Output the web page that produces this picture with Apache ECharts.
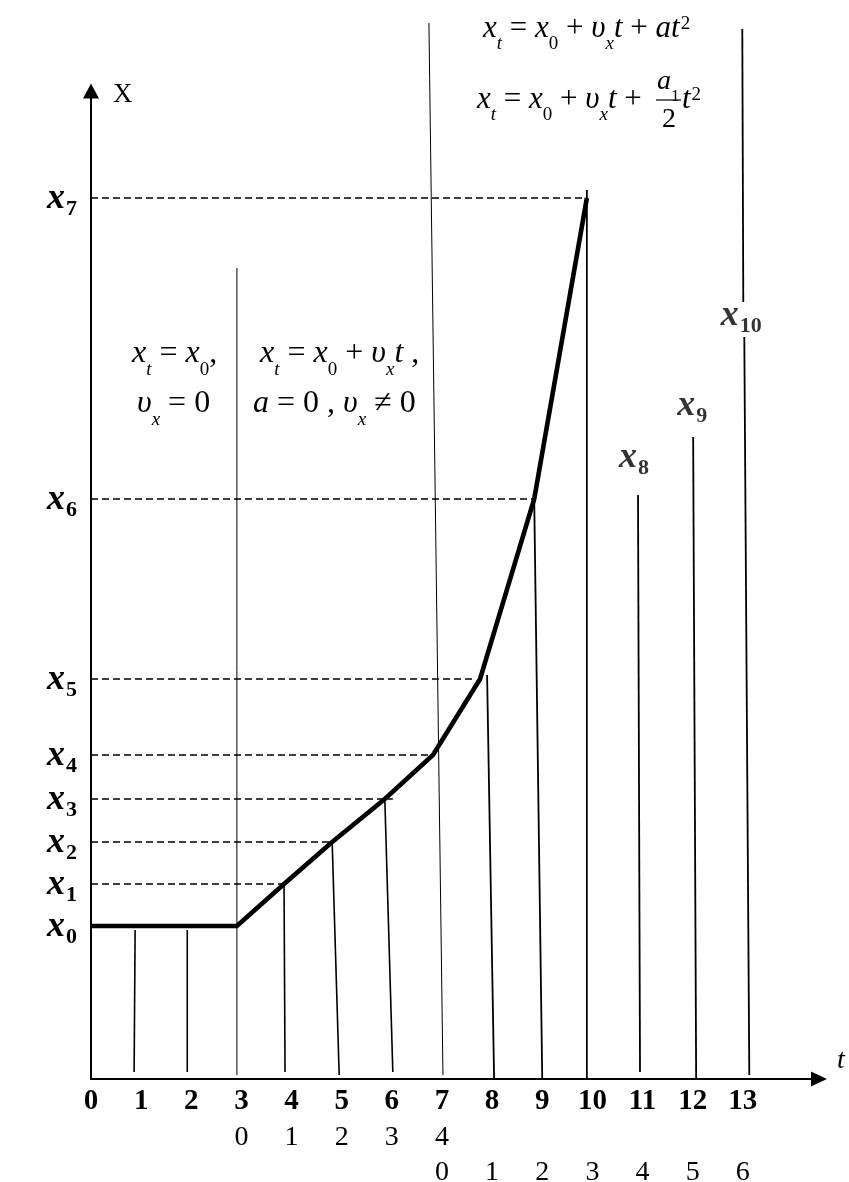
<!DOCTYPE html>
<html>
<head>
<meta charset="utf-8">
<script src="https://cdn.jsdelivr.net/npm/echarts@6/dist/echarts.min.js"></script>
<style>
  html, body { margin: 0; padding: 0; background: #fff; }
  #chart { width: 849px; height: 1182px; }
</style>
</head>
<body>
<div id="chart"></div>
<script>
const SERIF = "'Liberation Serif', 'Times New Roman', serif";

// t axis: main ticks and the two rows of local time under them
const tTicks = [0, 1, 2, 3, 4, 5, 6, 7, 8, 9, 10, 11, 12, 13];
const tRow2 = ['', '', '', '0', '1', '2', '3', '4', '', '', '', '', '', ''];
const tRow3 = ['', '', '', '', '', '', '', '0', '1', '2', '3', '4', '5', '6'];
// t axis runs a little to the left of the X axis
const tAxisStart = -1.616;

// X levels x0..x7 (arbitrary units) and where their dashed lines stop
const levelNames = ['0', '1', '2', '3', '4', '5', '6', '7'];
const levels = [15.3, 19.5, 23.7, 28.0, 32.4, 40.0, 58.0, 88.1];
const dashEnds = [0, 3.85, 4.77, 6.02, 6.82, 7.64, 8.84, 9.89];

// the motion graph
const pathT = [0, 2.91, 3.85, 4.81, 5.86, 6.82, 7.76, 8.84, 9.89];
const pathX = [15.3, 15.3, 19.5, 23.7, 28.0, 32.4, 40.0, 58.0, 88.1];

// thin vertical drop lines (top point -> bottom point)
const dropTopT = [0.88, 1.92, 2.91, 3.85, 4.81, 5.86, 6.74, 7.90, 8.84, 9.89, 10.91, 12.01, 12.99, 13.03];
const dropTopX = [14.9, 14.9, 81.1, 19.5, 23.7, 28.0, 105.6, 40.4, 57.9, 88.9, 58.4, 64.2, 105.0, 74.2];
const dropBotT = [0.86, 1.92, 2.91, 3.87, 4.95, 6.02, 7.02, 8.04, 9.00, 9.89, 10.95, 12.07, 13.01, 13.13];
const dropBotX = [0.7, 0.7, 0.4, 0.7, 0.4, 0.7, 0.4, 0, 0, 0, 0.7, 0.1, 77.7, 0.4];
const dropWidth = [1.6, 1.6, 1, 1.6, 1.6, 1.6, 1, 1.8, 1.8, 1.8, 1.8, 1.8, 1.8, 1.8];

// free labels x8..x10
const freeNames = ['8', '9', '10'];
const freeT = [10.83, 11.99, 12.97];
const freeX = [61.8, 67.0, 76.0];

const xLabelRich = {
  x: { fontFamily: SERIF, fontStyle: 'italic', fontWeight: 'bold', fontSize: 36, lineHeight: 43, verticalAlign: 'top', color: '#000' },
  d: { fontFamily: SERIF, fontWeight: 'bold', fontSize: 22, lineHeight: 22, verticalAlign: 'top', padding: [18, 0, 0, 1], color: '#000' }
};

function mathRich(fs) {
  const sub = Math.round(fs * 0.6);
  return {
    i: { fontFamily: SERIF, fontStyle: 'italic', fontSize: fs, lineHeight: fs * 1.2, verticalAlign: 'top', color: '#000' },
    n: { fontFamily: SERIF, fontSize: fs, lineHeight: fs * 1.2, verticalAlign: 'top', color: '#000' },
    si: { fontFamily: SERIF, fontStyle: 'italic', fontSize: sub, lineHeight: sub, verticalAlign: 'top', padding: [fs * 0.7, 0, 0, 0], color: '#000' },
    sd: { fontFamily: SERIF, fontSize: sub, lineHeight: sub, verticalAlign: 'top', padding: [fs * 0.7, 0, 0, 0], color: '#000' },
    p: { fontFamily: SERIF, fontSize: sub, lineHeight: sub, verticalAlign: 'top', padding: [fs * 0.04, 0, 0, 1], color: '#000' }
  };
}

function mathText(x, y, fs, text) {
  return { type: 'text', x: x, y: y, silent: true, style: { text: text, rich: mathRich(fs), align: 'left', verticalAlign: 'top', fill: '#000' } };
}

const chart = echarts.init(document.getElementById('chart'));

const series = [];

// left stub of the t axis
series.push({
  type: 'line', silent: true, symbol: 'none', clip: false, z: 1,
  lineStyle: { color: '#000', width: 2 },
  data: [[tAxisStart, 0], [0, 0]]
});

levels.forEach((lv, i) => {
  if (!dashEnds[i]) return;
  series.push({
    type: 'line', silent: true, symbol: 'none', clip: false, z: 2,
    lineStyle: { color: '#000', width: 1.5, type: [7, 4] },
    data: [[0, lv], [dashEnds[i], lv]]
  });
});

dropTopT.forEach((tt, i) => {
  series.push({
    type: 'line', silent: true, symbol: 'none', clip: false, z: 3,
    lineStyle: { color: '#000', width: dropWidth[i] },
    data: [[tt, dropTopX[i]], [dropBotT[i], dropBotX[i]]]
  });
});

series.push({
  type: 'line', silent: true, symbol: 'none', clip: false, z: 5,
  lineStyle: { color: '#000', width: 4.6, cap: 'butt', join: 'miter' },
  data: pathT.map((t, i) => [t, pathX[i]])
});

series.push({
  type: 'scatter', silent: true, symbolSize: 0, clip: false, z: 6,
  label: {
    show: true, position: 'inside',
    formatter: p => '{x|x}{d|' + freeNames[p.dataIndex] + '}',
    rich: xLabelRich
  },
  data: freeT.map((t, i) => [t, freeX[i]])
});

const option = {
  animation: false,
  backgroundColor: '#fff',
  grid: { left: 91, right: 30, top: 91, bottom: 103, containLabel: false, outerBoundsMode: 'none' },
  xAxis: {
    type: 'value', min: 0, max: 14.52,
    name: 't', nameLocation: 'end', nameGap: 18,
    nameTextStyle: { fontFamily: SERIF, fontStyle: 'italic', fontSize: 28, color: '#000', align: 'left', verticalAlign: 'bottom', padding: [0, 0, 4, 0] },
    axisLine: { show: true, onZero: false, symbol: ['none', 'triangle'], symbolSize: [15, 16], lineStyle: { color: '#000', width: 2 } },
    axisTick: { show: false },
    splitLine: { show: false },
    axisLabel: {
      customValues: tTicks, margin: 5, color: '#000', showMinLabel: true,
      formatter: v => {
        const i = tTicks.indexOf(v);
        return '{b|' + v + '}\n{r|' + (tRow2[i] || ' ') + '}\n{r|' + (tRow3[i] || ' ') + '}';
      },
      rich: {
        b: { fontFamily: SERIF, fontWeight: 'bold', fontSize: 29, lineHeight: 36, color: '#000' },
        r: { fontFamily: SERIF, fontSize: 28, lineHeight: 35, color: '#000' }
      }
    }
  },
  yAxis: {
    type: 'value', min: 0, max: 98.8,
    name: 'X', nameLocation: 'end', nameGap: -4,
    nameTextStyle: { fontFamily: SERIF, fontSize: 27, color: '#000', align: 'left', verticalAlign: 'middle', padding: [0, 0, 0, 22] },
    axisLine: { show: true, onZero: false, symbol: ['none', 'triangle'], symbolSize: [16, 15], lineStyle: { color: '#000', width: 2 } },
    axisTick: { show: false },
    splitLine: { show: false },
    axisLabel: {
      customValues: levels, margin: 14, color: '#000',
      padding: [8, 0, 0, 0],
      formatter: v => '{x|x}{d|' + levelNames[levels.indexOf(v)] + '}',
      rich: xLabelRich
    }
  },
  graphic: [
    mathText(483, 13, 31, '{i|x}{si|t}{n| = }{i|x}{sd|0}{n| + }{i|υ}{si|x}{i|t}{n| + }{i|at}{p|2}'),
    mathText(477, 84, 31, '{i|x}{si|t}{n| = }{i|x}{sd|0}{n| + }{i|υ}{si|x}{i|t}{n| + }'),
    mathText(657, 68, 28, '{i|a}{sd|1}'),
    { type: 'line', silent: true, shape: { x1: 656, y1: 100, x2: 681, y2: 100 }, style: { stroke: '#000', lineWidth: 1.2 } },
    mathText(662, 106, 28, '{n|2}'),
    mathText(682, 84, 31, '{i|t}{p|2}'),
    mathText(132, 338, 32, '{i|x}{si|t}{n| = }{i|x}{sd|0}{n|,}'),
    mathText(137, 388, 32, '{i|υ}{si|x}{n| = 0}'),
    mathText(260, 338, 32, '{i|x}{si|t}{n| = }{i|x}{sd|0}{n| + }{i|υ}{si|x}{i|t}{n| ,}'),
    mathText(253, 388, 32, '{i|a}{n| = 0 , }{i|υ}{si|x}{n| ≠ 0}')
  ],
  series: series
};

chart.setOption(option);
</script>
</body>
</html>
